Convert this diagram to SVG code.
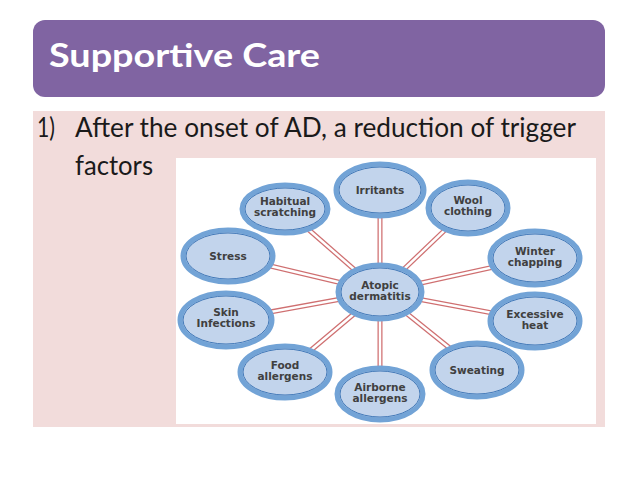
<svg xmlns="http://www.w3.org/2000/svg" width="638" height="479" viewBox="0 0 638 479">
<style>
.title{font-family:Lato,"Liberation Sans",sans-serif;font-weight:bold;font-size:32px;fill:#ffffff}
.body{font-family:Lato,"Liberation Sans",sans-serif;font-size:26px;fill:#1a1a1a}
.nt{font-family:"DejaVu Sans","Liberation Sans",sans-serif;font-weight:bold;font-size:10.5px;fill:#404040;text-anchor:middle}
.ring{fill:#c2d4ec;stroke:#72a3d6;stroke-width:5}
.inner{fill:none;stroke:#4279b8;stroke-width:1}
.lo{stroke:#cf6f70;stroke-width:5;fill:none}
.li{stroke:#ffffff;stroke-width:2.5;fill:none}
</style>
<rect x="0" y="0" width="638" height="479" fill="#ffffff"/>
<rect x="33" y="20" width="572" height="77" rx="12" ry="12" fill="#8064a2"/>
<text class="title" x="49" y="67" textLength="271" lengthAdjust="spacingAndGlyphs">Supportive Care</text>
<rect x="33" y="111" width="572" height="316" fill="#f2dcdb"/>
<text class="body" x="37" y="137" textLength="18" lengthAdjust="spacingAndGlyphs">1)</text>
<text class="body" x="75" y="137" textLength="501" lengthAdjust="spacingAndGlyphs">After the onset of AD, a reduction of trigger</text>
<text class="body" x="75" y="175" textLength="78" lengthAdjust="spacingAndGlyphs">factors</text>
<rect x="176" y="158" width="420" height="266" fill="#ffffff"/>
<g id="connectors">
<g>
<line class="lo" x1="380" y1="292" x2="380" y2="190"/>
<line class="lo" x1="380" y1="292" x2="285" y2="209"/>
<line class="lo" x1="380" y1="292" x2="228" y2="256"/>
<line class="lo" x1="380" y1="292" x2="468" y2="208"/>
<line class="lo" x1="380" y1="292" x2="535" y2="258"/>
<line class="lo" x1="380" y1="292" x2="226" y2="320"/>
<line class="lo" x1="380" y1="292" x2="285" y2="372"/>
<line class="lo" x1="380" y1="292" x2="380" y2="394"/>
<line class="lo" x1="380" y1="292" x2="535" y2="321"/>
<line class="lo" x1="380" y1="292" x2="477" y2="370"/>
</g>
<g>
<line class="li" x1="380" y1="292" x2="380" y2="190"/>
<line class="li" x1="380" y1="292" x2="285" y2="209"/>
<line class="li" x1="380" y1="292" x2="228" y2="256"/>
<line class="li" x1="380" y1="292" x2="468" y2="208"/>
<line class="li" x1="380" y1="292" x2="535" y2="258"/>
<line class="li" x1="380" y1="292" x2="226" y2="320"/>
<line class="li" x1="380" y1="292" x2="285" y2="372"/>
<line class="li" x1="380" y1="292" x2="380" y2="394"/>
<line class="li" x1="380" y1="292" x2="535" y2="321"/>
<line class="li" x1="380" y1="292" x2="477" y2="370"/>
</g>
</g>
<g id="irritants"><ellipse class="ring" cx="380" cy="190" rx="44" ry="26"/><ellipse class="inner" cx="380" cy="190" rx="41" ry="23"/><text class="nt" x="380" y="194">Irritants</text></g>
<g id="habitual"><ellipse class="ring" cx="285" cy="209" rx="43" ry="24"/><ellipse class="inner" cx="285" cy="209" rx="40" ry="21"/><text class="nt" x="285" y="205">Habitual</text><text class="nt" x="285" y="216">scratching</text></g>
<g id="stress"><ellipse class="ring" cx="228" cy="256" rx="45" ry="26"/><ellipse class="inner" cx="228" cy="256" rx="42" ry="23"/><text class="nt" x="228" y="260">Stress</text></g>
<g id="wool"><ellipse class="ring" cx="468" cy="208" rx="40" ry="26"/><ellipse class="inner" cx="468" cy="208" rx="37" ry="23"/><text class="nt" x="468" y="204">Wool</text><text class="nt" x="468" y="215">clothing</text></g>
<g id="winter"><ellipse class="ring" cx="535" cy="258" rx="45" ry="27"/><ellipse class="inner" cx="535" cy="258" rx="42" ry="24"/><text class="nt" x="535" y="255">Winter</text><text class="nt" x="535" y="266">chapping</text></g>
<g id="atopic"><ellipse class="ring" cx="380" cy="292" rx="42" ry="27"/><ellipse class="inner" cx="380" cy="292" rx="39" ry="24"/><text class="nt" x="380" y="289">Atopic</text><text class="nt" x="380" y="300">dermatitis</text></g>
<g id="skin"><ellipse class="ring" cx="226" cy="320" rx="46" ry="27"/><ellipse class="inner" cx="226" cy="320" rx="43" ry="24"/><text class="nt" x="226" y="316">Skin</text><text class="nt" x="226" y="327">Infections</text></g>
<g id="food"><ellipse class="ring" cx="285" cy="372" rx="45" ry="26"/><ellipse class="inner" cx="285" cy="372" rx="42" ry="23"/><text class="nt" x="285" y="369">Food</text><text class="nt" x="285" y="380">allergens</text></g>
<g id="airborne"><ellipse class="ring" cx="380" cy="394" rx="43" ry="26"/><ellipse class="inner" cx="380" cy="394" rx="40" ry="23"/><text class="nt" x="380" y="391">Airborne</text><text class="nt" x="380" y="402">allergens</text></g>
<g id="excessive"><ellipse class="ring" cx="535" cy="321" rx="45" ry="27"/><ellipse class="inner" cx="535" cy="321" rx="42" ry="24"/><text class="nt" x="535" y="318">Excessive</text><text class="nt" x="535" y="329">heat</text></g>
<g id="sweating"><ellipse class="ring" cx="477" cy="370" rx="45" ry="27"/><ellipse class="inner" cx="477" cy="370" rx="42" ry="24"/><text class="nt" x="477" y="374">Sweating</text></g>
</svg>
